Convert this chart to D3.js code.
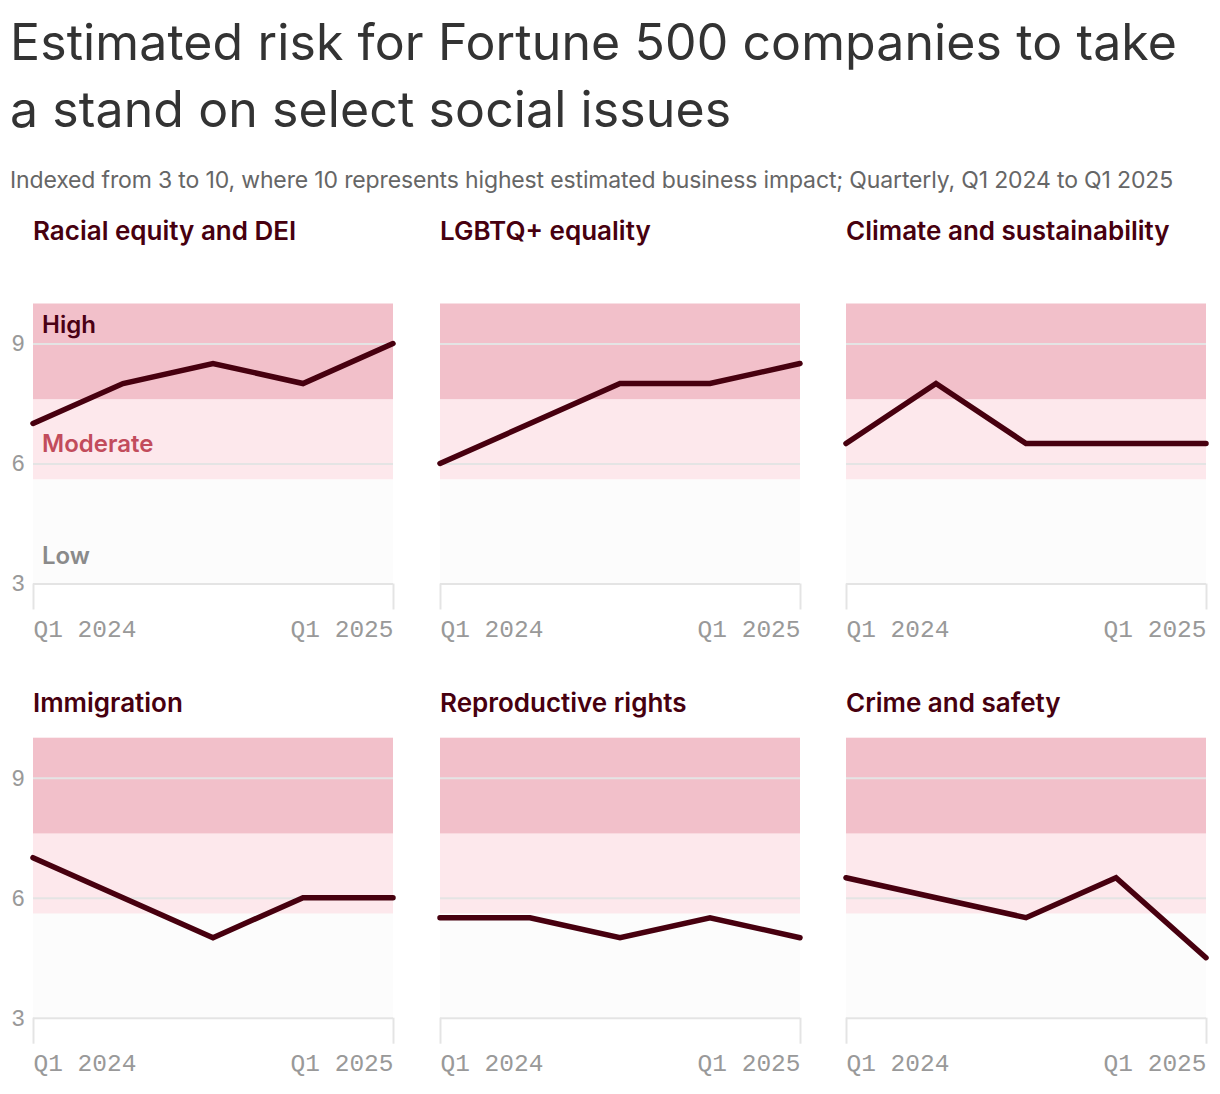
<!DOCTYPE html>
<html>
<head>
<meta charset="utf-8">
<title>Estimated risk for Fortune 500 companies</title>
<script src="https://d3js.org/d3.v7.min.js"></script>
<style>
  body { margin: 0; background: #fff; }
  svg { display: block; }
</style>
</head>
<body>
<script>
  // data
  const quarters = ['Q1 2024', 'Q2 2024', 'Q3 2024', 'Q4 2024', 'Q1 2025'];
  const issues = ['Racial equity and DEI', 'LGBTQ+ equality', 'Climate and sustainability',
                  'Immigration', 'Reproductive rights', 'Crime and safety'];
  const racial = [7, 8, 8.5, 8, 9];
  const lgbtq = [6, 7, 8, 8, 8.5];
  const climate = [6.5, 8, 6.5, 6.5, 6.5];
  const immigration = [7, 6, 5, 6, 6];
  const reproductive = [5.5, 5.5, 5, 5.5, 5];
  const crime = [6.5, 6, 5.5, 6.5, 4.5];
  const seriesValues = [racial, lgbtq, climate, immigration, reproductive, crime];
  const bands = [
    { name: 'High', from: 7.6, to: 10 },
    { name: 'Moderate', from: 5.6, to: 7.6 },
    { name: 'Low', from: 3, to: 5.6 }
  ];
  const yTicks = [3, 6, 9];
  const xTickLabels = ['Q1 2024', 'Q1 2025'];

  const W = 1220, H = 1094;
  const bandFill = { High: '#f2c0ca', Moderate: '#fde8ec', Low: '#fcfcfc' };
  const bandText = { High: '#4a0014', Moderate: '#c24c5c', Low: '#8a8a8a' };
  const dark = '#47000f';

  const svg = d3.select('body').append('svg')
    .attr('width', W)
    .attr('height', H);

  // title + subtitle
  const sans = 'Inter, "Noto Sans", sans-serif';
  const mono = '"Liberation Mono", "DejaVu Sans Mono", monospace';

  svg.append('text')
    .attr('x', 10).attr('y', 60)
    .style('font-family', sans).style('font-size', '50px').style('fill', '#333')
    .style('letter-spacing', '0.1px')
    .text('Estimated risk for Fortune 500 companies to take');
  svg.append('text')
    .attr('x', 10).attr('y', 127)
    .style('font-family', sans).style('font-size', '50px').style('fill', '#333')
    .style('letter-spacing', '0.1px')
    .text('a stand on select social issues');
  svg.append('text')
    .attr('x', 10).attr('y', 188)
    .style('font-family', sans).style('font-size', '23px').style('fill', '#666')
    .style('letter-spacing', '-0.15px')
    .text('Indexed from 3 to 10, where 10 represents highest estimated business impact; Quarterly, Q1 2024 to Q1 2025');

  const colX = [33, 440, 846];
  const rowTop = [303.5, 737.7];
  const titleY = [240, 712];
  const pw = 360, ph = 280;

  issues.forEach((name, i) => {
    const col = i % 3, row = Math.floor(i / 3);
    const g = svg.append('g')
      .attr('transform', `translate(${colX[col]},${rowTop[row]})`);

    const x = d3.scalePoint().domain(quarters).range([0, pw]);
    const y = d3.scaleLinear().domain([3, 10]).range([ph, 0]);

    svg.append('text')
      .attr('x', colX[col]).attr('y', titleY[row])
      .style('font-family', sans).style('font-size', '26px')
      .style('font-weight', 600).style('fill', dark)
      .text(name);

    g.selectAll('rect.band')
      .data(bands)
      .join('rect')
      .attr('class', 'band')
      .attr('x', 0)
      .attr('width', pw)
      .attr('y', d => y(d.to))
      .attr('height', d => y(d.from) - y(d.to))
      .attr('fill', d => bandFill[d.name]);

    // gridlines
    const yAxis = d3.axisLeft(y).tickValues(yTicks).tickSize(-pw).tickFormat(d3.format('d'));
    const ya = g.append('g').call(yAxis);
    ya.select('.domain').remove();
    ya.selectAll('.tick line')
      .attr('stroke', '#e4e4e4')
      .attr('stroke-width', 2);
    ya.selectAll('.tick text')
      .attr('x', -8)
      .style('font-family', mono).style('font-size', '23px').style('fill', '#999')
      .style('display', col === 0 ? null : 'none');

    // x axis
    const xAxis = d3.axisBottom(x)
      .tickValues([quarters[0], quarters[quarters.length - 1]])
      .tickSize(26)
      .tickFormat((d, k) => xTickLabels[k]);
    const xa = g.append('g').attr('transform', `translate(0,${ph})`).call(xAxis);
    xa.select('.domain').remove();
    xa.selectAll('.tick line').attr('stroke', '#e4e4e4').attr('stroke-width', 2);
    xa.selectAll('.tick text')
      .attr('y', 36)
      .attr('dy', '0.71em')
      .attr('text-anchor', (d, k) => k === 0 ? 'start' : 'end')
      .style('font-family', mono).style('font-size', '24.5px').style('fill', '#999');

    if (i === 0) {
      const labelY = { High: y(10) + 29, Moderate: y(7.6) + 52, Low: y(3) - 20 };
      g.selectAll('text.bandlabel')
        .data(bands)
        .join('text')
        .attr('class', 'bandlabel')
        .attr('x', 9)
        .attr('y', d => labelY[d.name])
        .style('font-family', sans).style('font-size', '24px').style('font-weight', 600)
        .style('fill', d => bandText[d.name])
        .text(d => d.name);
    }

    const line = d3.line()
      .x((d, k) => x(quarters[k]))
      .y(d => y(d));
    g.append('path')
      .datum(seriesValues[i])
      .attr('d', line)
      .attr('fill', 'none')
      .attr('stroke', dark)
      .attr('stroke-width', 5.5)
      .attr('stroke-linecap', 'round')
      .attr('stroke-linejoin', 'miter');
  });
</script>
</body>
</html>
